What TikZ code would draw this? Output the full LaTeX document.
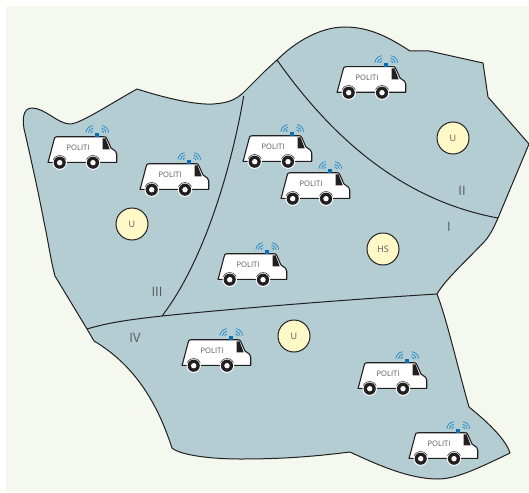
\documentclass[tikz,border=0pt]{standalone}
\usepackage{fontspec}
\setmainfont{Open Sans}
\definecolor{paper}{HTML}{F5F8EE}
\definecolor{land}{HTML}{B3CDD3}
\definecolor{ink}{HTML}{231F20}
\definecolor{lab}{HTML}{58595B}
\definecolor{disc}{HTML}{FFF9C8}
\definecolor{sig}{HTML}{1C87C9}
\definecolor{lamp}{HTML}{0A6EB4}
\tikzset{
 border/.style={draw=ink,line width=1pt,line join=round},
 place/.style={circle,draw=ink,fill=disc,line width=1pt,minimum size=32pt,inner sep=0pt,text=lab,font=\fontsize{9}{10}\selectfont},
 zone/.style={text=lab,inner sep=0pt,font=\fontsize{13}{14}\selectfont},
 van/.pic={
  \draw[fill=white,draw=ink,line width=1.1pt,line join=round] (-30,14.3) -- (-29,11) -- (-24,-8) .. controls (-23.5,-10.5) and (-23,-11.3) .. (-21,-11.3) -- (26,-11.3) .. controls (27.5,-11.3) and (28,-11) .. (29,-9) -- (33,0) -- (37.5,3.2) .. controls (38.5,4) and (38.7,4.5) .. (38.7,6) -- (38.7,14.3) -- cycle;
  \fill[ink] (24.7,-9.7) -- (27.5,-9.7) -- (31.7,1.3) -- (24.7,1.3) -- cycle;
  \foreach \wx in {-18.3,15}{
   \fill[white] (\wx,14.7) circle (7.2);
   \draw[ink,line width=.5pt] (\wx,14.7) ++(205:7.2) arc[start angle=205,end angle=335,radius=7.2];
   \fill[ink] (\wx,14.7) circle (6.1);
   \fill[white] (\wx,14.7) circle (2.7);
  }
  \fill[lamp] (17.3,-15.2) rectangle (21.3,-11.2);
  \begin{scope}[sig,line width=.7pt]
   \foreach \rr in {2.5,5,7.5}{
    \draw (15.4,-14.8) ++(265:\rr) arc[start angle=265,end angle=185,radius=\rr];
    \draw (23.2,-14.8) ++(275:\rr) arc[start angle=275,end angle=355,radius=\rr];
   }
  \end{scope}
  \node[text=lab,inner sep=0pt,font=\fontsize{7.6}{8}\selectfont] (-label) at (0,0) {POLITI};
 }
}
\begin{document}
\begin{tikzpicture}[x=1pt,y=-1pt]
\useasboundingbox (0,0) rectangle (529,492);
\fill[white] (0,0) rectangle (529,492);
\fill[paper] (6,6) rectangle (529,492);
\draw[border,fill=land]
 (137,89) .. controls (165,98) and (195,105) .. (213,104)
 .. controls (228,103) and (235,100) .. (243,93) -- (265,71) -- (277,60)
 .. controls (295,42) and (320,27) .. (345,27)
 .. controls (370,27) and (390,38) .. (410,51)
 -- (429,51) -- (483,63) -- (488,97) -- (529,144) -- (498,218)
 .. controls (492,232) and (487,240) .. (480,246)
 .. controls (465,262) and (445,280) .. (437,294)
 .. controls (447,320) and (457,365) .. (469,407)
 .. controls (490,424) and (506,440) .. (510,453)
 .. controls (475,470) and (455,479) .. (438,479)
 .. controls (410,479) and (380,466) .. (350,452)
 .. controls (310,457) and (280,459) .. (240,459)
 .. controls (210,459) and (180,455) .. (172,448)
 .. controls (158,405) and (136,366) .. (94,341)
 -- (87,329) -- (55,276)
 .. controls (51,262) and (48,240) .. (44,222)
 .. controls (38,190) and (30,155) .. (25,133)
 .. controls (22,122) and (22,108) .. (32,108)
 .. controls (45,108) and (58,124) .. (70,124)
 .. controls (80,124) and (110,104) .. (137,89)
 -- cycle;
\coordinate (a3) at (243.7,96);
\coordinate (b3) at (162,316);
\coordinate (a4) at (87,329);
\coordinate (b4) at (437,294);
\coordinate (a2) at (277,60);
\coordinate (b2) at (498,218);
\draw[border] (a3) .. controls (232,165) and (205,260) .. (b3);
\draw[border] (a4) .. controls (110,322) and (135,319) .. (b3) .. controls (230,309) and (340,300) .. (b4);
\draw[border] (a2) .. controls (330,135) and (400,200) .. (b2);
\node[place] (u1) at (132,224) {U};
\node[place] (u2) at (453,138) {U};
\node[place] (hs) at (383,249) {HS};
\node[place] (u3) at (294,336) {U};
\node[zone] (z2) at (462,191) {II};
\node[zone] (z1) at (449,227) {I};
\node[zone] (z3) at (157,292) {III};
\node[zone] (z4) at (135,338) {IV};
\pic (v1) at (78,148) {van};
\pic (v2) at (170,175) {van};
\pic (v3) at (367,78) {van};
\pic (v4) at (273,147) {van};
\pic (v5) at (311,184) {van};
\pic (v6) at (248,265) {van};
\pic (v7) at (212,351) {van};
\pic (v8) at (388,374) {van};
\pic (v9) at (439,444) {van};
\end{tikzpicture}
\end{document}
